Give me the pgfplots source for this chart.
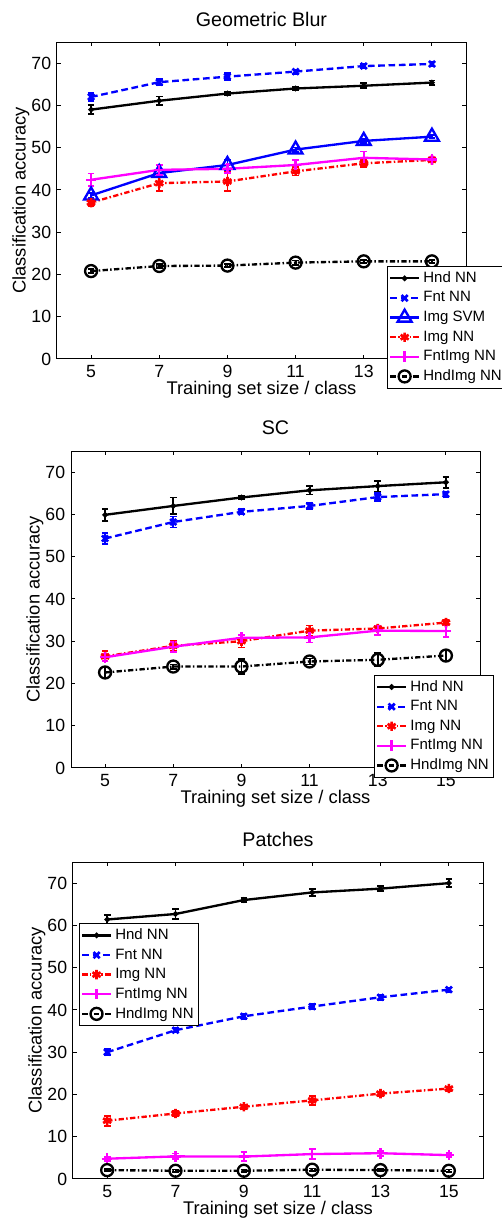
\documentclass[border=0pt]{standalone}
\usepackage{fontspec}
\setmainfont{Liberation Sans}
\usepackage{pgfplots}
\pgfplotsset{compat=1.18}
\definecolor{mblue}{rgb}{0,0,1}
\definecolor{mred}{rgb}{1,0,0}
\definecolor{mmag}{rgb}{1,0,1}

\pgfplotsset{
  panel/.style={
    anchor=south west, scale only axis,
    width=245.4pt, height=190.2pt,
    xmin=4, xmax=16, ymin=0, ymax=75,
    xtick={5,7,...,15}, ytick={0,10,...,70},
    tick align=inside, major tick length=2.4pt,
    axis line style={line width=0.6pt},
    every tick/.style={black, line width=0.6pt},
    /pgf/number format/assume math mode=true,
    tick label style={font=\fontsize{10.6}{12}\selectfont},
    label style={font=\fontsize{11}{12}\selectfont},
    title style={font=\fontsize{11.8}{13}\selectfont,
      at={(axis description cs:0.5,1)}, anchor=center, yshift=7.8pt},
    xlabel={Training set size / class},
    ylabel={Classification accuracy},
    xlabel style={at={(axis description cs:0.5,-0.097)}, anchor=center},
    ylabel style={at={(axis description cs:-0.088,0.5)}, anchor=center, rotate=0},
    legend cell align=left,
    legend style={font=\fontsize{9}{10.5}\selectfont, draw=black, line width=0.6pt,
      inner sep=1pt, row sep=0pt, fill=white},
    clip=false,
  },
  eb/.style={error bars/.cd, y dir=both, y explicit,
    error bar style={solid, line width=1.1pt},
    error mark options={rotate=90, mark size=2pt, line width=1.1pt, solid}},
  hnd/.style={black, solid, line width=1.4pt, mark=*, mark size=0.9pt, mark options={solid}, eb},
  fnt/.style={mblue, dash pattern=on 4pt off 2.2pt, line width=1.4pt, mark=x, mark size=2.6pt, mark options={solid, line width=1.6pt}, eb},
  svm/.style={mblue, solid, line width=1.4pt, mark=triangle, mark size=4.8pt, mark options={solid}, eb},
  img/.style={mred, dash pattern=on 3.2pt off 1.4pt on 0.9pt off 1.4pt, line width=1.4pt, mark=asterisk, mark size=2.8pt, mark options={solid, line width=1.6pt}, eb},
  fntimg/.style={mmag, solid, line width=1.4pt, mark=+, mark size=3.2pt, mark options={solid}, eb},
  hndimg/.style={black, dash pattern=on 3.2pt off 1.4pt on 0.9pt off 1.4pt, line width=1.4pt, mark=o, mark size=3.6pt, mark options={solid}, eb},
}

\begin{document}
\begin{tikzpicture}
\useasboundingbox (0,0) rectangle (301.2pt,733.2pt);

% ---------- Geometric Blur ----------
\begin{axis}[panel, at={(34.2pt,517.8pt)}, title={Geometric Blur},
  legend style={at={(0.807,0.293)}, anchor=north west}]
\addplot[hnd] coordinates {(5,59.0) +- (0,1.1) (7,61.1) +- (0,1.0) (9,62.8) +- (0,0.4)
  (11,64.0) +- (0,0.3) (13,64.65) +- (0,0.6) (15,65.4) +- (0,0.5)};
\addlegendentry{Hnd NN}
\addplot[fnt] coordinates {(5,62.0) +- (0,1.0) (7,65.5) +- (0,0.7) (9,66.8) +- (0,0.8)
  (11,68.0) +- (0,0.5) (13,69.3) +- (0,0.5) (15,69.8) +- (0,0.5)};
\addlegendentry{Fnt NN}
\addplot[svm] coordinates {(5,38.7) +- (0,0.6) (7,44.0) +- (0,0.6) (9,45.9) +- (0,1.2)
  (11,49.55) +- (0,0.5) (13,51.6) +- (0,0.5) (15,52.6) +- (0,0.4)};
\addlegendentry{Img SVM}
\addplot[img] coordinates {(5,37.0) +- (0,0.8) (7,41.6) +- (0,1.9) (9,42.0) +- (0,2.2)
  (11,44.4) +- (0,1.0) (13,46.3) +- (0,0.8) (15,47.1) +- (0,0.5)};
\addlegendentry{Img NN}
\addplot[fntimg] coordinates {(5,42.4) +- (0,1.5) (7,44.75) +- (0,1.2) (9,45.0) +- (0,1.0)
  (11,45.9) +- (0,1.2) (13,47.6) +- (0,1.5) (15,47.2) +- (0,0.6)};
\addlegendentry{FntImg NN}
\addplot[hndimg] coordinates {(5,20.8) +- (0,0.5) (7,22.0) +- (0,0.5) (9,22.1) +- (0,0.4)
  (11,22.8) +- (0,0.5) (13,23.1) +- (0,0.4) (15,23.1) +- (0,0.4)};
\addlegendentry{HndImg NN}
\end{axis}

% ---------- SC ----------
\begin{axis}[panel, at={(42.6pt,272.4pt)}, title={SC},
  legend style={at={(0.741,0.294)}, anchor=north west}]
\addplot[hnd] coordinates {(5,59.9) +- (0,1.4) (7,62.0) +- (0,2.0) (9,64.0) +- (0,0.3)
  (11,65.7) +- (0,1.0) (13,66.7) +- (0,1.3) (15,67.6) +- (0,1.3)};
\addlegendentry{Hnd NN}
\addplot[fnt] coordinates {(5,54.3) +- (0,1.3) (7,58.2) +- (0,1.3) (9,60.6) +- (0,0.6)
  (11,62.0) +- (0,0.7) (13,64.1) +- (0,1.0) (15,64.8) +- (0,0.6)};
\addlegendentry{Fnt NN}
\addplot[img] coordinates {(5,26.4) +- (0,1.2) (7,28.9) +- (0,1.2) (9,30.0) +- (0,1.5)
  (11,32.5) +- (0,1.2) (13,33.0) +- (0,0.6) (15,34.4) +- (0,0.6)};
\addlegendentry{Img NN}
\addplot[fntimg] coordinates {(5,26.2) +- (0,0.8) (7,28.7) +- (0,1.2) (9,30.8) +- (0,0.7)
  (11,30.9) +- (0,1.2) (13,32.5) +- (0,1.0) (15,32.4) +- (0,1.5)};
\addlegendentry{FntImg NN}
\addplot[hndimg] coordinates {(5,22.6) +- (0,1.2) (7,24.0) +- (0,0.5) (9,24.0) +- (0,1.8)
  (11,25.2) +- (0,0.7) (13,25.6) +- (0,1.6) (15,26.6) +- (0,1.3)};
\addlegendentry{HndImg NN}
\end{axis}

% ---------- Patches ----------
\begin{axis}[panel, at={(43.8pt,25.8pt)}, width=246pt, title={Patches},
  legend style={at={(0.0146,0.807)}, anchor=north west}]
\addplot[hnd] coordinates {(5,61.4) +- (0,1.1) (7,62.7) +- (0,1.2) (9,66.0) +- (0,0.4)
  (11,67.8) +- (0,0.8) (13,68.7) +- (0,0.6) (15,70.0) +- (0,1.0)};
\addlegendentry{Hnd NN}
\addplot[fnt] coordinates {(5,30.0) +- (0,0.7) (7,35.2) +- (0,0.5) (9,38.5) +- (0,0.6)
  (11,40.8) +- (0,0.7) (13,43.0) +- (0,0.6) (15,44.8) +- (0,0.5)};
\addlegendentry{Fnt NN}
\addplot[img] coordinates {(5,13.8) +- (0,1.2) (7,15.5) +- (0,0.5) (9,17.1) +- (0,0.5)
  (11,18.6) +- (0,1.0) (13,20.2) +- (0,0.5) (15,21.4) +- (0,0.5)};
\addlegendentry{Img NN}
\addplot[fntimg] coordinates {(5,4.8) +- (0,0.5) (7,5.35) +- (0,0.7) (9,5.3) +- (0,1.0)
  (11,5.9) +- (0,1.2) (13,6.1) +- (0,0.6) (15,5.65) +- (0,0.5)};
\addlegendentry{FntImg NN}
\addplot[hndimg] coordinates {(5,2.1) +- (0,0.3) (7,1.95) +- (0,0.3) (9,1.95) +- (0,0.3)
  (11,2.2) +- (0,0.3) (13,2.1) +- (0,0.3) (15,1.95) +- (0,0.3)};
\addlegendentry{HndImg NN}
\end{axis}
\end{tikzpicture}
\end{document}
